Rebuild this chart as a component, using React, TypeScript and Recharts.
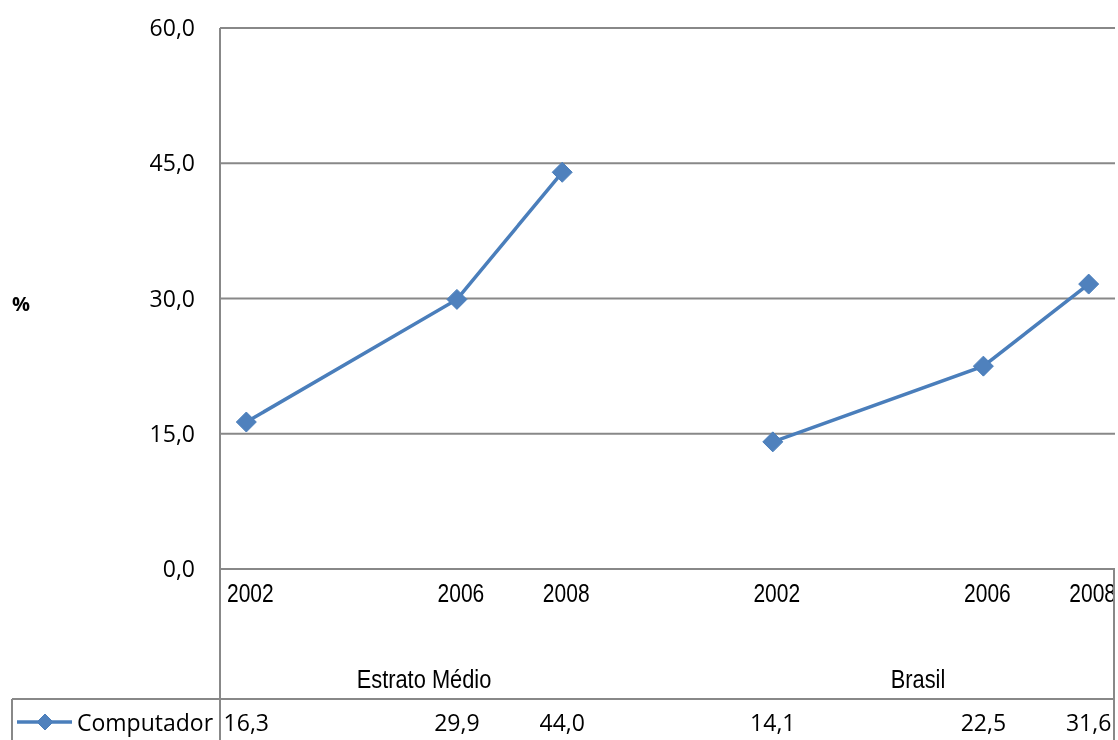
import { LineChart, Line, XAxis, YAxis, CartesianGrid } from "recharts"

const years = [2002, 2006, 2008]
const groups = ["Estrato Médio", "Brasil"]
const estratoMedio = [16.3, 29.9, 44.0]
const brasil = [14.1, 22.5, 31.6]
const seriesName = "Computador"
const yTicks = [0, 15, 30, 45, 60]

const W = 1110
const H = 732
const GROUP_GAP = 5
const LINE_COLOR = "#4A7EBB"
const DOT_COLOR = "#4F81BD"
const GRID = "#888888"
const NUM_FONT = "'Open Sans', sans-serif"
const CAT_FONT = "'Liberation Sans Narrow', 'Liberation Sans', sans-serif"

const fmt = (v: number) => v.toFixed(1).replace(".", ",")

// x position reflects the real year spacing within each group
const toPoints = (values: number[], gi: number) =>
  values.map((value, i) => ({
    x: gi * GROUP_GAP + (years[i] - years[0]) / 2,
    year: years[i],
    value,
  }))

const seriesData = [toPoints(estratoMedio, 0), toPoints(brasil, 1)]
const allPoints = seriesData.flat()
const xTicks = allPoints.map((p) => p.x)

const Diamond = ({ cx, cy, size = 10 }: { cx?: number; cy?: number; size?: number }) => {
  if (cx == null || cy == null) return null
  const r = size
  return (
    <polygon
      points={`${cx},${cy - r} ${cx + r},${cy} ${cx},${cy + r} ${cx - r},${cy}`}
      fill={DOT_COLOR}
      stroke={LINE_COLOR}
      strokeWidth={1}
    />
  )
}

// narrow text (Arial Narrow look) by squeezing a regular sans
const NarrowText = ({ x, y, size, children }: { x: number; y: number; size: number; children: any }) => (
  <text
    transform={`translate(${x},${y}) scale(0.84,1)`}
    textAnchor="middle"
    fontFamily={CAT_FONT}
    fontSize={size}
    fill="#000"
  >
    {children}
  </text>
)

const XTick = (props: any) => {
  const { x, y, payload } = props
  const pt = allPoints.find((p) => p.x === payload.value)
  if (!pt) return null
  return (
    <g>
      <NarrowText x={x + 4} y={y + 33} size={25}>
        {pt.year}
      </NarrowText>
      <text x={x} y={y + 162} textAnchor="middle" fontFamily={NUM_FONT} fontSize={23} fill="#000">
        {fmt(pt.value)}
      </text>
    </g>
  )
}

export default function App() {
  return (
    <div style={{ position: "fixed", left: 8, top: 8, width: W, height: H }}>
      <LineChart width={W} height={H} margin={{ top: 20, right: 3, left: 0, bottom: 0 }}>
        <CartesianGrid vertical={false} stroke={GRID} strokeWidth={2} />
        <XAxis
          dataKey="x"
          type="number"
          domain={[-0.25, 8.25]}
          ticks={xTicks}
          interval={0}
          height={171}
          tickSize={0}
          tickMargin={0}
          tickLine={false}
          axisLine={{ stroke: GRID, strokeWidth: 2 }}
          tick={<XTick />}
          allowDataOverflow
        />
        <YAxis
          type="number"
          domain={[0, 60]}
          ticks={yTicks}
          width={212}
          tickSize={0}
          tickMargin={25}
          tickLine={false}
          axisLine={{ stroke: GRID, strokeWidth: 2 }}
          tickFormatter={fmt}
          tick={{ fontFamily: NUM_FONT, fontSize: 23, fill: "#000" }}
        />
        {seriesData.map((d, i) => (
          <Line
            key={groups[i]}
            data={d}
            dataKey="value"
            name={seriesName}
            stroke={LINE_COLOR}
            strokeWidth={3.5}
            dot={(p: any) => <Diamond key={`${i}-${p.index}`} cx={p.cx} cy={p.cy} size={10} />}
            activeDot={false}
            isAnimationActive={false}
          />
        ))}
      </LineChart>
      <svg
        width={W}
        height={H}
        style={{ position: "absolute", left: 0, top: 0, pointerEvents: "none" }}
      >
        <text x={4} y={303} fontFamily={NUM_FONT} fontSize={20} fontWeight="bold" fill="#000">
          %
        </text>
        <line x1={212} y1={561} x2={212} y2={H} stroke={GRID} strokeWidth={2} />
        <line x1={1106} y1={561} x2={1106} y2={H} stroke={GRID} strokeWidth={2} />
        <line x1={4} y1={691} x2={1107} y2={691} stroke={GRID} strokeWidth={2} />
        <line x1={4} y1={691} x2={4} y2={H} stroke={GRID} strokeWidth={2} />
        <NarrowText x={416} y={680} size={26}>
          {groups[0]}
        </NarrowText>
        <NarrowText x={910} y={680} size={26}>
          {groups[1]}
        </NarrowText>
        <line x1={9} y1={714} x2={64} y2={714} stroke={LINE_COLOR} strokeWidth={3.5} />
        <Diamond cx={37} cy={714} size={8} />
        <text x={69} y={723} fontFamily={NUM_FONT} fontSize={23} fill="#000">
          {seriesName}
        </text>
      </svg>
    </div>
  )
}
